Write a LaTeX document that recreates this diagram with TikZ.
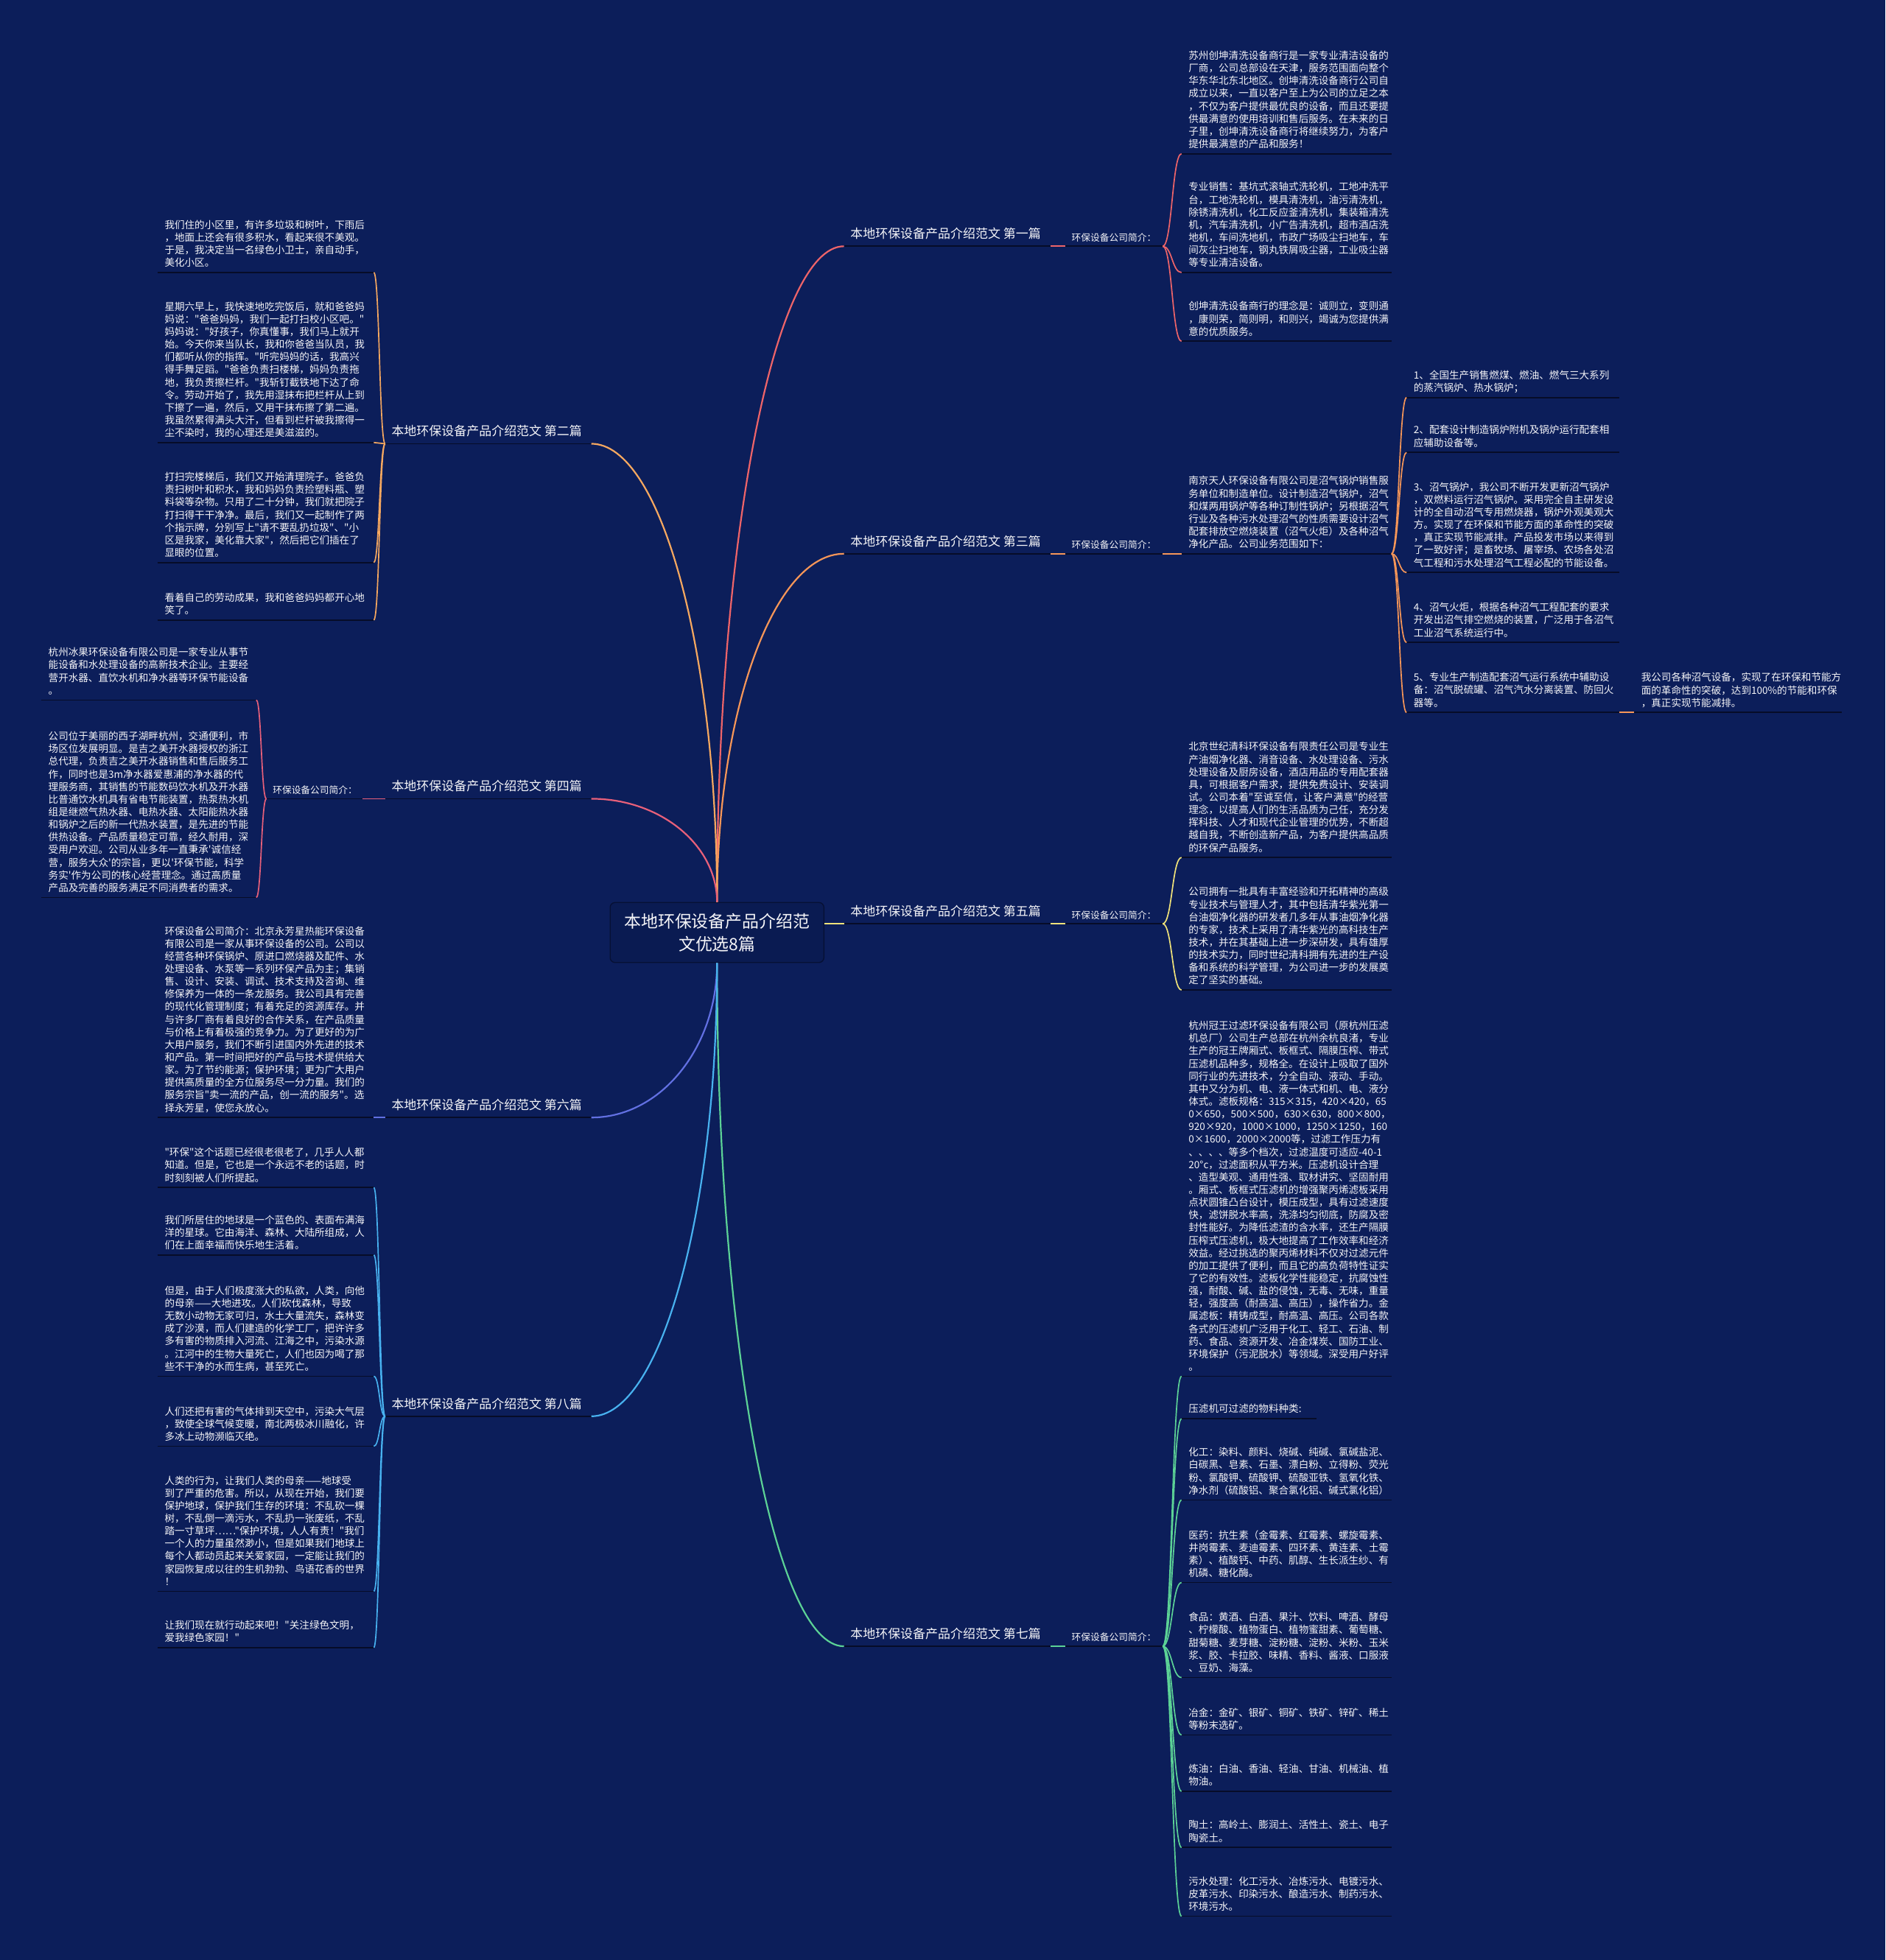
\documentclass[tikz,border=0pt]{standalone}
\usepackage{fontspec}
\newfontfamily\cjk{Noto Sans CJK SC}
\usetikzlibrary{calc}
\definecolor{bg}{RGB}{12,30,90}
\definecolor{boxfill}{RGB}{10,27,82}
\definecolor{boxline}{RGB}{6,16,52}
\definecolor{ulc}{RGB}{6,12,40}
\definecolor{txt}{RGB}{245,245,248}
\definecolor{cA}{RGB}{238,100,105}
\definecolor{cB}{RGB}{246,168,96}
\definecolor{cC}{RGB}{247,150,88}
\definecolor{cD}{RGB}{232,96,122}
\definecolor{cE}{RGB}{240,226,122}
\definecolor{cF}{RGB}{98,112,226}
\definecolor{cG}{RGB}{92,210,150}
\definecolor{cH}{RGB}{72,178,240}
\tikzset{
  leaftext/.style={font=\cjk\fontsize{8}{10.1}\selectfont, text=txt, align=left, inner sep=0pt},
  blabel/.style={font=\cjk\fontsize{10}{12}\selectfont, text=txt, inner sep=0pt, anchor=base west},
  slabel/.style={font=\cjk\fontsize{7.5}{9}\selectfont, text=txt, inner sep=0pt, anchor=base west},
  uline/.style={draw=ulc, line width=1pt},
  branch/.style={line width=1.3pt},
  brc/.style={line width=1pt},
}
\newcommand\mmleaf[6]{%
  \node[leaftext,anchor=north west] (#1) at ({#2+5.5},{#4-11.8-(#5-1)*10.1}) {#6};
  \coordinate (#1-l) at (#2,#4);
  \coordinate (#1-r) at (#3,#4);
  \draw[uline] (#1-l) -- (#1-r);
}
\newcommand\mmbrace[4]{% color, from, mid, to
  \draw[brc,#1] (#2) .. controls (#3 |- #2) and (#3 |- #4) .. (#4);
}
\begin{document}
\begin{tikzpicture}[x=1pt,y=-1pt]
\fill[bg] (0,0) rectangle (1508,1568);
\useasboundingbox (0,0) rectangle (1508,1568);

% ---------- centre ----------
\node[draw=boxline, fill=boxfill, rounded corners=4pt, minimum width=171pt, minimum height=48pt,
      align=center, font=\cjk\fontsize{13.5}{18}\selectfont, text=txt, line width=0.8pt]
      (ctr) at (573.5,746) {本地环保设备产品介绍范\\文优选8篇};

% ---------- branch labels ----------
% right
\node[blabel] (b1) at (680,190.7) {本地环保设备产品介绍范文 第一篇};
\coordinate (b1l) at (675,197); \coordinate (b1r) at (840,197);
\node[blabel] (b3) at (680,436.7) {本地环保设备产品介绍范文 第三篇};
\coordinate (b3l) at (675,443); \coordinate (b3r) at (840,443);
\node[blabel] (b5) at (680,732.7) {本地环保设备产品介绍范文 第五篇};
\coordinate (b5l) at (675,739); \coordinate (b5r) at (840,739);
\node[blabel] (b7) at (680,1310.7) {本地环保设备产品介绍范文 第七篇};
\coordinate (b7l) at (675,1317); \coordinate (b7r) at (840,1317);
% left
\node[blabel] (b2) at (313,348.7) {本地环保设备产品介绍范文 第二篇};
\coordinate (b2l) at (308,355); \coordinate (b2r) at (473,355);
\node[blabel] (b4) at (313,632.7) {本地环保设备产品介绍范文 第四篇};
\coordinate (b4l) at (308,639); \coordinate (b4r) at (473,639);
\node[blabel] (b6) at (313,887.7) {本地环保设备产品介绍范文 第六篇};
\coordinate (b6l) at (308,894); \coordinate (b6r) at (473,894);
\node[blabel] (b8) at (313,1126.7) {本地环保设备产品介绍范文 第八篇};
\coordinate (b8l) at (308,1133); \coordinate (b8r) at (473,1133);
\foreach \b in {b1,b2,b3,b4,b5,b6,b7,b8} \draw[uline] (\b l) -- (\b r);

% ---------- branch curves ----------
\foreach \e/\c in {b1l/cA,b3l/cC,b2r/cB,b4r/cD} {
  \draw[branch,\c] (ctr.north) .. controls ($(ctr.north)!0.55!(ctr.north|-\e)$) and ($(\e)!0.55!(ctr.north|-\e)$) .. (\e);
}
\foreach \e/\c in {b7l/cG,b6r/cF,b8r/cH} {
  \draw[branch,\c] (ctr.south) .. controls ($(ctr.south)!0.55!(ctr.south|-\e)$) and ($(\e)!0.55!(ctr.south|-\e)$) .. (\e);
}
\draw[branch,cE] (ctr.east |- b5l) -- (b5l);

% ---------- sub labels ----------
\node[slabel] (s1) at (857,192.8) {环保设备公司简介：};
\coordinate (s1l) at (852,197); \coordinate (s1r) at (930,197);
\node[slabel] (s3) at (857,438.8) {环保设备公司简介：};
\coordinate (s3l) at (852,443); \coordinate (s3r) at (930,443);
\node[slabel] (s5) at (857,734.8) {环保设备公司简介：};
\coordinate (s5l) at (852,739); \coordinate (s5r) at (930,739);
\node[slabel] (s7) at (857,1312.8) {环保设备公司简介：};
\coordinate (s7l) at (852,1317); \coordinate (s7r) at (930,1317);
\node[slabel] (s4) at (218,634.8) {环保设备公司简介：};
\coordinate (s4l) at (213,639); \coordinate (s4r) at (290,639);
\foreach \s in {s1,s3,s5,s7,s4} \draw[uline] (\s l) -- (\s r);
\draw[brc,cA] (b1r) -- (s1l);
\draw[brc,cC] (b3r) -- (s3l);
\draw[brc,cE] (b5r) -- (s5l);
\draw[brc,cG] (b7r) -- (s7l);
\draw[brc,cD] (b4l) -- (s4r);

% ---------- 第一篇 ----------
\mmleaf{a1}{945}{1113}{123}{8}{苏州创坤清洗设备商行是一家专业清洁设备的\\厂商，公司总部设在天津，服务范围面向整个\\华东华北东北地区。创坤清洗设备商行公司自\\成立以来，一直以客户至上为公司的立足之本\\，不仅为客户提供最优良的设备，而且还要提\\供最满意的使用培训和售后服务。在未来的日\\子里，创坤清洗设备商行将继续努力，为客户\\提供最满意的产品和服务！}
\mmleaf{a2}{945}{1113}{218}{7}{专业销售：基坑式滚轴式洗轮机，工地冲洗平\\台，工地洗轮机，模具清洗机，油污清洗机，\\除锈清洗机，化工反应釜清洗机，集装箱清洗\\机，汽车清洗机，小广告清洗机，超市酒店洗\\地机，车间洗地机，市政广场吸尘扫地车，车\\间灰尘扫地车，钢丸铁屑吸尘器，工业吸尘器\\等专业清洁设备。}
\mmleaf{a3}{945}{1113}{273}{3}{创坤清洗设备商行的理念是：诚则立，变则通\\，康则荣，简则明，和则兴，竭诚为您提供满\\意的优质服务。}
\coordinate (m1) at (937.5,0);
\foreach \t in {a1,a2,a3} {\mmbrace{cA}{s1r}{m1}{\t-l}}

% ---------- 第三篇 ----------
\mmleaf{c0}{945}{1113}{443}{6}{南京天人环保设备有限公司是沼气锅炉销售服\\务单位和制造单位。设计制造沼气锅炉，沼气\\和煤两用锅炉等各种订制性锅炉；另根据沼气\\行业及各种污水处理沼气的性质需要设计沼气\\配套排放空燃烧装置（沼气火炬）及各种沼气\\净化产品。公司业务范围如下：}
\draw[brc,cC] (s3r) -- (c0-l);
\mmleaf{i1}{1125}{1295}{318}{2}{1、全国生产销售燃煤、燃油、燃气三大系列\\的蒸汽锅炉、热水锅炉；}
\mmleaf{i2}{1125}{1295}{362}{2}{2、配套设计制造锅炉附机及锅炉运行配套相\\应辅助设备等。}
\mmleaf{i3}{1125}{1295}{458}{7}{3、沼气锅炉，我公司不断开发更新沼气锅炉\\，双燃料运行沼气锅炉。采用完全自主研发设\\计的全自动沼气专用燃烧器，锅炉外观美观大\\方。实现了在环保和节能方面的革命性的突破\\，真正实现节能减排。产品投发市场以来得到\\了一致好评；是畜牧场、屠宰场、农场各处沼\\气工程和污水处理沼气工程必配的节能设备。}
\mmleaf{i4}{1125}{1295}{514}{3}{4、沼气火炬，根据各种沼气工程配套的要求\\开发出沼气排空燃烧的装置，广泛用于各沼气\\工业沼气系统运行中。}
\mmleaf{i5}{1125}{1295}{570}{3}{5、专业生产制造配套沼气运行系统中辅助设\\备：沼气脱硫罐、沼气汽水分离装置、防回火\\器等。}
\mmleaf{i6}{1307}{1473}{570}{3}{我公司各种沼气设备，实现了在环保和节能方\\面的革命性的突破，达到100\%的节能和环保\\，真正实现节能减排。}
\coordinate (m3) at (1119,0);
\foreach \t in {i1,i2,i3,i4,i5} {\mmbrace{cC}{c0-r}{m3}{\t-l}}
\draw[brc,cC] (i5-r) -- (i6-l);

% ---------- 第五篇 ----------
\mmleaf{e1}{945}{1113}{686}{9}{北京世纪清科环保设备有限责任公司是专业生\\产油烟净化器、消音设备、水处理设备、污水\\处理设备及厨房设备，酒店用品的专用配套器\\具，可根据客户需求，提供免费设计、安装调\\试。公司本着"至诚至信，让客户满意"的经营\\理念，以提高人们的生活品质为己任，充分发\\挥科技、人才和现代企业管理的优势，不断超\\越自我，不断创造新产品，为客户提供高品质\\的环保产品服务。}
\mmleaf{e2}{945}{1113}{792}{8}{公司拥有一批具有丰富经验和开拓精神的高级\\专业技术与管理人才，其中包括清华紫光第一\\台油烟净化器的研发者几多年从事油烟净化器\\的专家，技术上采用了清华紫光的高科技生产\\技术，并在其基础上进一步深研发，具有雄厚\\的技术实力，同时世纪清科拥有先进的生产设\\备和系统的科学管理，为公司进一步的发展奠\\定了坚实的基础。}
\coordinate (m5) at (937.5,0);
\foreach \t in {e1,e2} {\mmbrace{cE}{s5r}{m5}{\t-l}}

% ---------- 第七篇 ----------
\mmleaf{g1}{945}{1113}{1101}{28}{杭州冠王过滤环保设备有限公司（原杭州压滤\\机总厂）公司生产总部在杭州余杭良渚，专业\\生产的冠王牌厢式、板框式、隔膜压榨、带式\\压滤机品种多，规格全。在设计上吸取了国外\\同行业的先进技术，分全自动、液动、手动。\\其中又分为机、电、液一体式和机、电、液分\\体式。滤板规格：315×315，420×420，65\\0×650，500×500，630×630，800×800，\\920×920，1000×1000，1250×1250，160\\0×1600，2000×2000等，过滤工作压力有\\、、、、等多个档次，过滤温度可适应-40-1\\20°c，过滤面积从平方米。压滤机设计合理\\、造型美观、通用性强、取材讲究、坚固耐用\\。厢式、板框式压滤机的增强聚丙烯滤板采用\\点状圆锥凸台设计，模压成型，具有过滤速度\\快，滤饼脱水率高，洗涤均匀彻底，防腐及密\\封性能好。为降低滤渣的含水率，还生产隔膜\\压榨式压滤机，极大地提高了工作效率和经济\\效益。经过挑选的聚丙烯材料不仅对过滤元件\\的加工提供了便利，而且它的高负荷特性证实\\了它的有效性。滤板化学性能稳定，抗腐蚀性\\强，耐酸、碱、盐的侵蚀，无毒、无味，重量\\轻，强度高（耐高温、高压），操作省力。金\\属滤板：精铸成型，耐高温、高压。公司各款\\各式的压滤机广泛用于化工、轻工、石油、制\\药、食品、资源开发、冶金煤炭、国防工业、\\环境保护（污泥脱水）等领域。深受用户好评\\。}
\mmleaf{g2}{945}{1053}{1135}{1}{压滤机可过滤的物料种类:}
\mmleaf{g3}{945}{1113}{1200}{4}{化工：染料、颜料、烧碱、纯碱、氯碱盐泥、\\白碳黑、皂素、石墨、漂白粉、立得粉、荧光\\粉、氯酸钾、硫酸钾、硫酸亚铁、氢氧化铁、\\净水剂（硫酸铝、聚合氯化铝、碱式氯化铝）}
\mmleaf{g4}{945}{1113}{1266}{4}{医药：抗生素（金霉素、红霉素、螺旋霉素、\\井岗霉素、麦迪霉素、四环素、黄连素、土霉\\素）、植酸钙、中药、肌醇、生长派生纱、有\\机磷、糖化酶。}
\mmleaf{g5}{945}{1113}{1342}{5}{食品：黄酒、白酒、果汁、饮料、啤酒、酵母\\、柠檬酸、植物蛋白、植物蜜甜素、葡萄糖、\\甜菊糖、麦芽糖、淀粉糖、淀粉、米粉、玉米\\浆、胶、卡拉胶、味精、香料、酱液、口服液\\、豆奶、海藻。}
\mmleaf{g6}{945}{1113}{1388}{2}{冶金：金矿、银矿、铜矿、铁矿、锌矿、稀土\\等粉末选矿。}
\mmleaf{g7}{945}{1113}{1433}{2}{炼油：白油、香油、轻油、甘油、机械油、植\\物油。}
\mmleaf{g8}{945}{1113}{1478}{2}{陶土：高岭土、膨润土、活性土、瓷土、电子\\陶瓷土。}
\mmleaf{g9}{945}{1113}{1533}{3}{污水处理：化工污水、冶炼污水、电镀污水、\\皮革污水、印染污水、酿造污水、制药污水、\\环境污水。}
\coordinate (m7) at (937.5,0);
\foreach \t in {g1,g2,g3,g4,g5,g6,g7,g8,g9} {\mmbrace{cG}{s7r}{m7}{\t-l}}

% ---------- 第二篇 ----------
\mmleaf{d1}{126}{299}{218}{4}{我们住的小区里，有许多垃圾和树叶，下雨后\\，地面上还会有很多积水，看起来很不美观。\\于是，我决定当一名绿色小卫士，亲自动手，\\美化小区。}
\mmleaf{d2}{126}{299}{354}{11}{星期六早上，我快速地吃完饭后，就和爸爸妈\\妈说："爸爸妈妈，我们一起打扫校小区吧。"\\妈妈说："好孩子，你真懂事，我们马上就开\\始。今天你来当队长，我和你爸爸当队员，我\\们都听从你的指挥。"听完妈妈的话，我高兴\\得手舞足蹈。"爸爸负责扫楼梯，妈妈负责拖\\地，我负责擦栏杆。"我斩钉截铁地下达了命\\令。劳动开始了，我先用湿抹布把栏杆从上到\\下擦了一遍，然后，又用干抹布擦了第二遍。\\我虽然累得满头大汗，但看到栏杆被我擦得一\\尘不染时，我的心理还是美滋滋的。}
\mmleaf{d3}{126}{299}{450}{7}{打扫完楼梯后，我们又开始清理院子。爸爸负\\责扫树叶和积水，我和妈妈负责捡塑料瓶、塑\\料袋等杂物。只用了二十分钟，我们就把院子\\打扫得干干净净。最后，我们又一起制作了两\\个指示牌，分别写上"请不要乱扔垃圾"、"小\\区是我家，美化靠大家"，然后把它们插在了\\显眼的位置。}
\mmleaf{d4}{126}{299}{496}{2}{看着自己的劳动成果，我和爸爸妈妈都开心地\\笑了。}
\coordinate (m2) at (303.5,0);
\foreach \t in {d1,d2,d3,d4} {\mmbrace{cB}{b2l}{m2}{\t-r}}

% ---------- 第四篇 ----------
\mmleaf{f1}{33}{205}{560}{4}{杭州冰果环保设备有限公司是一家专业从事节\\能设备和水处理设备的高新技术企业。主要经\\营开水器、直饮水机和净水器等环保节能设备\\。}
\mmleaf{f2}{33}{205}{718}{13}{公司位于美丽的西子湖畔杭州，交通便利，市\\场区位发展明显。是吉之美开水器授权的浙江\\总代理，负责吉之美开水器销售和售后服务工\\作，同时也是3m净水器爱惠浦的净水器的代\\理服务商，其销售的节能数码饮水机及开水器\\比普通饮水机具有省电节能装置，热泵热水机\\组是继燃气热水器、电热水器、太阳能热水器\\和锅炉之后的新一代热水装置，是先进的节能\\供热设备。产品质量稳定可靠，经久耐用，深\\受用户欢迎。公司从业多年一直秉承'诚信经\\营，服务大众'的宗旨，更以'环保节能，科学\\务实'作为公司的核心经营理念。通过高质量\\产品及完善的服务满足不同消费者的需求。}
\coordinate (m4) at (209,0);
\foreach \t in {f1,f2} {\mmbrace{cD}{s4l}{m4}{\t-r}}

% ---------- 第六篇 ----------
\mmleaf{h1}{126}{299}{894}{15}{环保设备公司简介：北京永芳星热能环保设备\\有限公司是一家从事环保设备的公司。公司以\\经营各种环保锅炉、原进口燃烧器及配件、水\\处理设备、水泵等一系列环保产品为主；集销\\售、设计、安装、调试、技术支持及咨询、维\\修保养为一体的一条龙服务。我公司具有完善\\的现代化管理制度；有着充足的资源库存。并\\与许多厂商有着良好的合作关系，在产品质量\\与价格上有着极强的竞争力。为了更好的为广\\大用户服务，我们不断引进国内外先进的技术\\和产品。第一时间把好的产品与技术提供给大\\家。为了节约能源；保护环境；更为广大用户\\提供高质量的全方位服务尽一分力量。我们的\\服务宗旨"卖一流的产品，创一流的服务"。选\\择永芳星，使您永放心。}
\draw[brc,cF] (b6l) -- (h1-r);

% ---------- 第八篇 ----------
\mmleaf{k1}{126}{299}{950}{3}{"环保"这个话题已经很老很老了，几乎人人都\\知道。但是，它也是一个永远不老的话题，时\\时刻刻被人们所提起。}
\mmleaf{k2}{126}{299}{1004}{3}{我们所居住的地球是一个蓝色的、表面布满海\\洋的星球。它由海洋、森林、大陆所组成，人\\们在上面幸福而快乐地生活着。}
\mmleaf{k3}{126}{299}{1101}{7}{但是，由于人们极度涨大的私欲，人类，向他\\的母亲——大地进攻。人们砍伐森林，导致\\无数小动物无家可归，水土大量流失，森林变\\成了沙漠，而人们建造的化学工厂，把许许多\\多有害的物质排入河流、江海之中，污染水源\\。江河中的生物大量死亡，人们也因为喝了那\\些不干净的水而生病，甚至死亡。}
\mmleaf{k4}{126}{299}{1157}{3}{人们还把有害的气体排到天空中，污染大气层\\，致使全球气候变暖，南北两极冰川融化，许\\多冰上动物濒临灭绝。}
\mmleaf{k5}{126}{299}{1273}{9}{人类的行为，让我们人类的母亲——地球受\\到了严重的危害。所以，从现在开始，我们要\\保护地球，保护我们生存的环境：不乱砍一棵\\树，不乱倒一滴污水，不乱扔一张废纸，不乱\\踏一寸草坪……"保护环境，人人有责！"我们\\一个人的力量虽然渺小，但是如果我们地球上\\每个人都动员起来关爱家园，一定能让我们的\\家园恢复成以往的生机勃勃、鸟语花香的世界\\！}
\mmleaf{k6}{126}{299}{1318}{2}{让我们现在就行动起来吧！"关注绿色文明，\\爱我绿色家园！"}
\coordinate (m8) at (303.5,0);
\foreach \t in {k1,k2,k3,k4,k5,k6} {\mmbrace{cH}{b8l}{m8}{\t-r}}

\end{tikzpicture}
\end{document}
